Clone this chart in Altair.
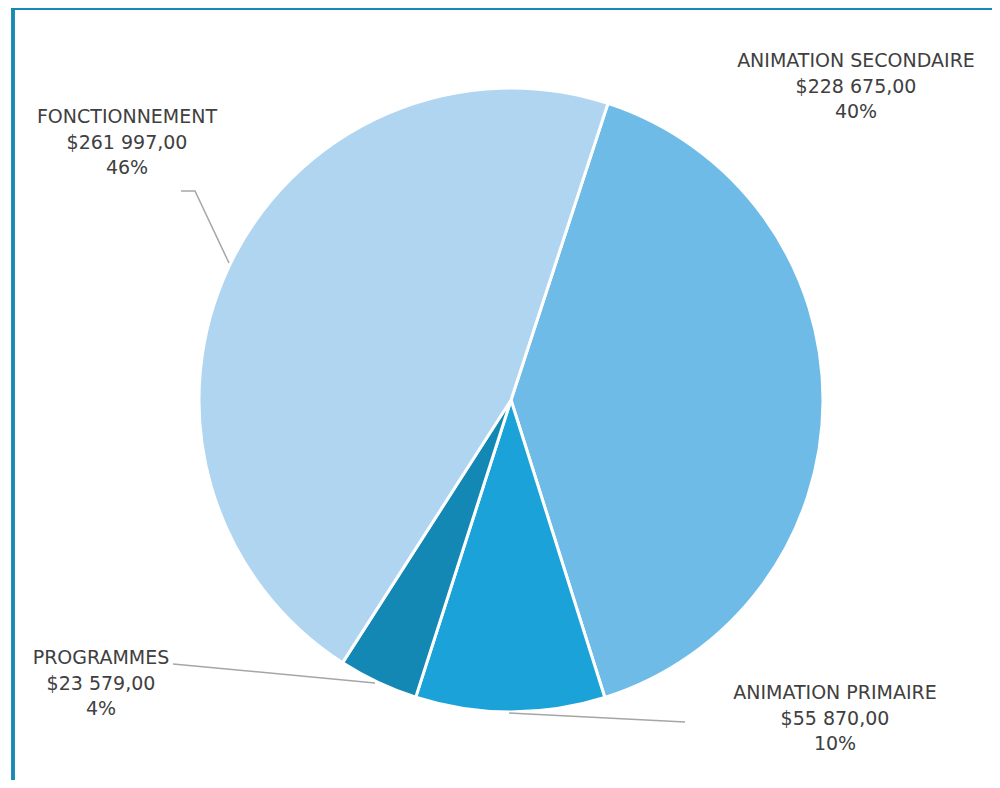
import math
import altair as alt
import pandas as pd

# ---- data ----
categories = ["ANIMATION SECONDAIRE", "ANIMATION PRIMAIRE", "PROGRAMMES", "FONCTIONNEMENT"]
values = [228675, 55870, 23579, 261997]
colors = ["#6EBBE7", "#1BA3D9", "#1488B5", "#B0D5F0"]

# label layout (page pixel coordinates of the first label line)
label_x = [856, 835, 101, 127]
label_y = [61, 693, 658, 117]

# leader lines (page pixel coordinates)
leader_group = ["P", "P", "G", "G", "F", "F", "F"]
leader_x = [509, 685, 173, 375, 181, 195, 229]
leader_y = [713, 722, 664, 683, 191, 191, 263]

W, H = 984, 772
CX, CY, R = 503, 392, 312
OFFSET = math.radians(18.1)

total = sum(values)


def money(v):
    s = f"{v:,.2f}"
    ip, dp = s.split(".")
    return "$" + ip.replace(",", " ") + "," + dp


df = pd.DataFrame({
    "cat": categories,
    "value": values,
    "order": list(range(len(categories))),
    "lx": label_x,
    "ly": label_y,
})
df["label"] = [f"{c}\n{money(v)}\n{round(100 * v / total)}%" for c, v in zip(categories, values)]

lines = pd.DataFrame({"g": leader_group, "x": leader_x, "y": leader_y,
                      "i": list(range(len(leader_x)))})

xs = alt.Scale(domain=[8, 8 + W], nice=False, zero=False)
ys = alt.Scale(domain=[8, 8 + H], nice=False, zero=False, reverse=True)

pie = alt.Chart(df).mark_arc(outerRadius=R, stroke="white", strokeWidth=3).encode(
    theta=alt.Theta("value:Q", stack=True,
                    scale=alt.Scale(range=[OFFSET, OFFSET + 2 * math.pi])),
    color=alt.Color("cat:N", scale=alt.Scale(domain=categories, range=colors), legend=None),
    order=alt.Order("order:Q"),
    x=alt.value(CX),
    y=alt.value(CY),
)

leaders = alt.Chart(lines).mark_line(color="#A6A6A6", strokeWidth=1.5).encode(
    x=alt.X("x:Q", scale=xs, axis=None),
    y=alt.Y("y:Q", scale=ys, axis=None),
    detail="g:N",
    order="i:Q",
)

labels = alt.Chart(df).mark_text(
    font="DejaVu Sans", fontSize=19, color="#404040", lineBreak="\n",
    lineHeight=25.5, align="center", baseline="middle",
).encode(
    x=alt.X("lx:Q", scale=xs, axis=None),
    y=alt.Y("ly:Q", scale=ys, axis=None),
    text="label:N",
)

frame_left = alt.Chart(df).mark_rule(color="#1789B4", strokeWidth=3).encode(
    x=alt.value(5), y=alt.value(0), y2=alt.value(H)
)
frame_top = alt.Chart(df).mark_rule(color="#1789B4", strokeWidth=3).encode(
    x=alt.value(3.5), x2=alt.value(W), y=alt.value(0.5)
)

chart = alt.layer(pie, leaders, labels, frame_left, frame_top).properties(
    width=W, height=H, padding=0, autosize=alt.AutoSizeParams(type="none")
).configure_view(stroke=None)

chart.save("out.html", embed_options={"renderer": "svg", "actions": False})
